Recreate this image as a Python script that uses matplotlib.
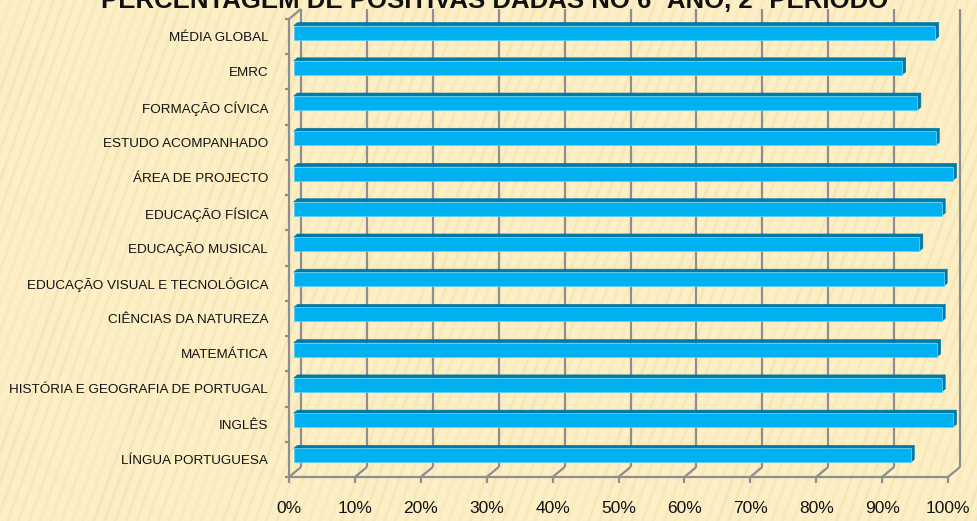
import numpy as np
import matplotlib
matplotlib.use('Agg')
import matplotlib.pyplot as plt
from matplotlib.patches import Rectangle, Polygon

## Data
categories = ["LÍNGUA PORTUGUESA", "INGLÊS", "HISTÓRIA E GEOGRAFIA DE PORTUGAL",
              "MATEMÁTICA", "CIÊNCIAS DA NATUREZA", "EDUCAÇÃO VISUAL E TECNOLÓGICA",
              "EDUCAÇÃO MUSICAL", "EDUCAÇÃO FÍSICA", "ÁREA DE PROJECTO",
              "ESTUDO ACOMPANHADO", "FORMAÇÃO CÍVICA", "EMRC", "MÉDIA GLOBAL"]
values = [0.936, 1.000, 0.983, 0.976, 0.983, 0.986, 0.949, 0.983, 1.000,
          0.974, 0.946, 0.923, 0.973]
x_ticks = [0.0, 0.1, 0.2, 0.3, 0.4, 0.5, 0.6, 0.7, 0.8, 0.9, 1.0]
x_labels = ["0%", "10%", "20%", "30%", "40%", "50%", "60%", "70%", "80%", "90%", "100%"]
title = "PERCENTAGEM DE POSITIVAS DADAS NO 6º ANO, 2º PERÍODO"

W, H = 978, 521
BG = "#fcefc6"
GRID = "#8e8e8e"
FACE = "#00b0f0"
DARK = "#0079a8"

fig = plt.figure(figsize=(W / 100, H / 100), dpi=100)
fig.patch.set_facecolor(BG)

# faint steep diagonal texture in the background
for k in np.arange(-0.3, 1.05, 0.011):
    fig.add_artist(plt.Line2D([k, k + 0.19], [0, 1], transform=fig.transFigure,
                              color="#f2dca4", lw=2.0, alpha=0.25 + 0.25 * ((k * 83) % 1), zorder=-10))

# front plane of the 3d box, in pixels
left, right, bottom, top = 289, 948, 477, 19
ax = fig.add_axes([left / W, 1 - bottom / H, (right - left) / W, (bottom - top) / H])
ax.set_xlim(0, 1)
ax.set_ylim(-0.5, len(categories) - 0.5)
ax.patch.set_visible(False)
for s in ax.spines.values():
    s.set_visible(False)

# depth offsets, pixel -> data
sx = 1.0 / (right - left)
sy = len(categories) / (bottom - top)
DX, DY = 12 * sx, 10 * sy
ymin, ymax = -0.5, len(categories) - 0.5

lk = dict(color=GRID, lw=1.6, clip_on=False, solid_capstyle="butt")
# back wall gridlines + floor slants + front ticks
for t in x_ticks:
    ax.plot([t + DX, t + DX], [ymin + DY, ymax + DY], zorder=1, **lk)
    ax.plot([t, t + DX], [ymin, ymin + DY], zorder=1, **lk)
    ax.plot([t, t], [ymin, ymin - 6 * sy], zorder=1, **lk)
ax.plot([0, 1], [ymin, ymin], zorder=1, **lk)
# left wall
ax.plot([0, 0], [ymin, ymax], zorder=1, **lk)
ax.plot([0, DX], [ymax, ymax + DY], zorder=1, **lk)
for k in np.arange(ymin, ymax + 0.01, 1.0):
    ax.plot([-4 * sx, 0], [k, k], zorder=1, **lk)

# 3d bars
h = 14 * sy
f0, f1 = 0.4, 0.7
for i, v in enumerate(values):
    x0, y0 = f0 * DX, i - h / 2 + f0 * DY
    ddx, ddy = (f1 - f0) * DX, (f1 - f0) * DY
    top_face = Polygon([(x0, y0 + h), (x0 + v, y0 + h), (x0 + v + ddx, y0 + h + ddy),
                        (x0 + ddx, y0 + h + ddy)], closed=True, fc=DARK, ec=DARK, lw=0.5, zorder=3)
    side_face = Polygon([(x0 + v, y0), (x0 + v, y0 + h), (x0 + v + ddx, y0 + h + ddy),
                         (x0 + v + ddx, y0 + ddy)], closed=True, fc=DARK, ec=DARK, lw=0.5, zorder=3)
    front = Rectangle((x0, y0), v, h, fc=FACE, ec="#5fd0f5", lw=0.6, zorder=4)
    for p in (top_face, side_face, front):
        p.set_clip_on(False)
        ax.add_patch(p)

ax.set_yticks(range(len(categories)))
ax.set_yticklabels(categories, fontsize=9.7, family="Liberation Sans", color="#111111")
ax.set_xticks(x_ticks)
ax.set_xticklabels(x_labels, fontsize=12.5, family="Liberation Sans", color="#111111")
ax.tick_params(axis="y", length=0, pad=15)
ax.tick_params(axis="x", length=0, pad=17)

# title sits mostly above the top edge, as in the original slide
fig.text(0.506, 1 - 8 / H, title, ha="center", va="baseline", fontsize=18.5,
         family="Liberation Sans", weight="bold", color="#111111")

fig.savefig("out.png", dpi=100, facecolor=BG)
